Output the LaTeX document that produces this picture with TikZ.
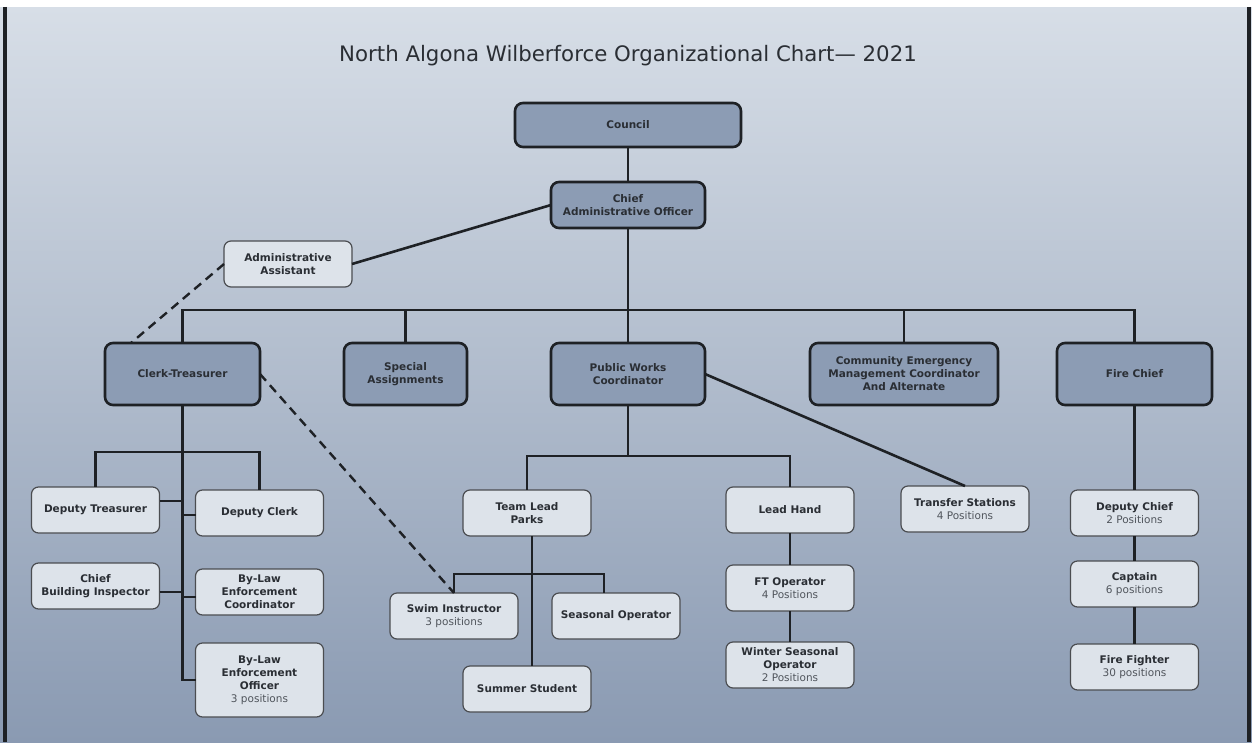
\documentclass[tikz,border=0pt]{standalone}
\usepackage{fontspec}
\setmainfont{DejaVu Sans}
\usepackage{xcolor}
\usepackage{tikz}
\usetikzlibrary{positioning,calc}

\definecolor{bgtop}{HTML}{D7DEE7}
\definecolor{bgmid}{HTML}{C0C9D5}
\definecolor{bgbot}{HTML}{8A9AB2}
\definecolor{darkfill}{HTML}{8C9CB4}
\definecolor{lightfill}{HTML}{DDE3EA}
\definecolor{inkline}{HTML}{1E2125}
\definecolor{inktext}{HTML}{2A2E34}
\definecolor{posgray}{HTML}{50555C}

\newcommand{\posn}[1]{{\mdseries\color{posgray}#1}}

\begin{document}
\begin{tikzpicture}[
    x=1pt, y=-1pt,
    topbox/.style={draw=inkline, line width=2.6pt, rounded corners=8pt,
                   fill=darkfill, minimum height=62pt, align=center,
                   text=inktext, inner sep=2pt, outer sep=0pt,
                   font=\bfseries\fontsize{10.5}{13}\selectfont},
    staffbox/.style={draw=inkline!80, line width=1.2pt, rounded corners=7pt,
                     fill=lightfill, minimum width=128pt, minimum height=46pt,
                     align=center, text=inktext, inner sep=2pt, outer sep=0pt,
                     font=\bfseries\fontsize{10.5}{13}\selectfont},
    link/.style={draw=inkline, line width=2.6pt},
    dashlink/.style={draw=inkline, line width=2.4pt, dash pattern=on 9pt off 6pt},
  ]
  % Page: gradient and side rules
  \shade[top color=bgtop, middle color=bgmid, bottom color=bgbot] (0,7) rectangle (1252,742);
  \fill[white] (0,0) rectangle (1252,7);
  \draw[inkline, line width=3.5pt] (5,7) -- (5,742);
  \draw[inkline, line width=3.5pt] (1249,7) -- (1249,742);
  \useasboundingbox (0,0) rectangle (1252,742);

  \node[font=\fontsize{21.3}{25}\selectfont, text=inktext] (title) at (628,56)
    {North Algona Wilberforce Organizational Chart— 2021};

  % Row 1: council and CAO
  \node[topbox, minimum width=226pt, minimum height=44pt] (council) at (628,125) {Council};
  \node[topbox, minimum width=154pt, minimum height=46pt, below=35pt of council] (cao)
    {Chief\\Administrative Officer};
  \node[staffbox] (admin) at (288,264) {Administrative\\Assistant};

  % Row 2: department heads
  \node[topbox, minimum width=154pt, below=115pt of cao] (pwc) {Public Works\\Coordinator};
  \node[topbox, minimum width=123pt, left=84pt of pwc] (special) {Special\\Assignments};
  \node[topbox, minimum width=155pt, left=84pt of special] (clerk) {Clerk-Treasurer};
  \node[topbox, minimum width=188pt, right=105pt of pwc] (cemc)
    {Community Emergency\\Management Coordinator\\And Alternate};
  \node[topbox, minimum width=155pt, right=59pt of cemc] (fire) {Fire Chief};

  % Clerk-Treasurer staff
  \node[staffbox, below=82pt of clerk, xshift=-87pt] (deptreas) {Deputy Treasurer};
  \node[staffbox, below=85pt of clerk, xshift=77pt] (depclerk) {Deputy Clerk};
  \node[staffbox, below=30pt of deptreas] (cbi) {Chief\\Building Inspector};
  \node[staffbox, below=33pt of depclerk] (bylawc) {By-Law\\Enforcement\\Coordinator};
  \node[staffbox, minimum height=74pt, below=28pt of bylawc] (bylawo)
    {By-Law\\Enforcement\\Officer\\\posn{3 positions}};

  % Public Works staff
  \node[staffbox, below=85pt of pwc, xshift=-101pt] (teamlead) {Team Lead\\Parks};
  \node[staffbox, below=82pt of pwc, xshift=162pt] (leadhand) {Lead Hand};
  \node[staffbox, below=81pt of pwc, xshift=337pt] (transfer) {Transfer Stations\\\posn{4 Positions}};
  \node[staffbox, below=57pt of teamlead, xshift=-73pt] (swim) {Swim Instructor\\\posn{3 positions}};
  \node[staffbox, below=57pt of teamlead, xshift=89pt] (seasonal) {Seasonal Operator};
  \node[staffbox, below=130pt of teamlead] (summer) {Summer Student};
  \node[staffbox, below=32pt of leadhand] (ftop) {FT Operator\\\posn{4 Positions}};
  \node[staffbox, below=31pt of ftop] (winter) {Winter Seasonal\\Operator\\\posn{2 Positions}};

  % Fire staff
  \node[staffbox, below=85pt of fire] (depchief) {Deputy Chief\\\posn{2 Positions}};
  \node[staffbox, below=25pt of depchief] (captain) {Captain\\\posn{6 positions}};
  \node[staffbox, below=37pt of captain] (firefighter) {Fire Fighter\\\posn{30 positions}};

  % Lines: top of the chart
  \draw[link] (council) -- (cao);
  \draw[link] (cao.west) -- (admin.east);
  \draw[dashlink] (admin.west) -- ([xshift=26pt]clerk.north west);
  \draw[link] (cao.south) -- ++(0,82) -| (clerk.north);
  \draw[link] (cao.south) -- ++(0,82) -| (special.north);
  \draw[link] (cao.south) -- ++(0,82) -| (pwc.north);
  \draw[link] (cao.south) -- ++(0,82) -| (cemc.north);
  \draw[link] (cao.south) -- ++(0,82) -| (fire.north);

  % Lines: Clerk-Treasurer
  \draw[link] (clerk.south) -- ++(0,47) -| (deptreas.north);
  \draw[link] (clerk.south) -- ++(0,47) -| (depclerk.north);
  \draw[link] (clerk.south) -- (clerk.south |- bylawo.west) -- (bylawo.west);
  \draw[link] ([yshift=9pt]deptreas.east) -- ([yshift=9pt]deptreas.east -| clerk.south);
  \draw[link] ([yshift=-2pt]depclerk.west) -- ([yshift=-2pt]depclerk.west -| clerk.south);
  \draw[link] ([yshift=-6pt]cbi.east) -- ([yshift=-6pt]cbi.east -| clerk.south);
  \draw[link] ([yshift=-5pt]bylawc.west) -- ([yshift=-5pt]bylawc.west -| clerk.south);
  \draw[dashlink] (clerk.east) -- (swim.north);

  % Lines: Public Works
  \draw[link] (pwc.south) -- ++(0,51) -| (teamlead.north);
  \draw[link] (pwc.south) -- ++(0,51) -| (leadhand.north);
  \draw[link] (pwc.east) -- (transfer.north);
  \draw[link] ([xshift=5pt]teamlead.south) -- ([xshift=5pt]summer.north);
  \draw[link] ([xshift=5pt]teamlead.south) -- ++(0,38) -| (swim.north);
  \draw[link] ([xshift=5pt]teamlead.south) -- ++(0,38) -| ([xshift=-12pt]seasonal.north);
  \draw[link] (leadhand) -- (ftop);
  \draw[link] (ftop) -- (winter);

  % Lines: Fire
  \draw[link] (fire) -- (depchief);
  \draw[link] (depchief) -- (captain);
  \draw[link] (captain) -- (firefighter);

\end{tikzpicture}
\end{document}
